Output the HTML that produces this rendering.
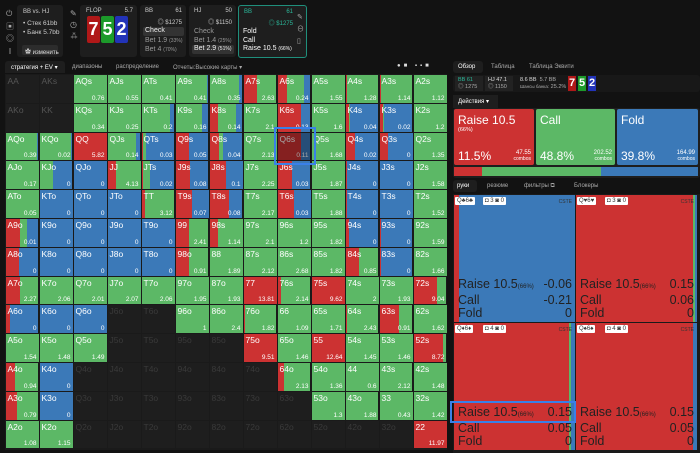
<!DOCTYPE html>
<html><head><meta charset="utf-8">
<style>
*{box-sizing:border-box;margin:0;padding:0}
body{width:700px;height:453px;overflow:hidden;background:#121212;font-family:"Liberation Sans","Noto Sans CJK SC",sans-serif;color:#ddd;position:relative}
.abs{position:absolute}
.box{position:absolute;background:#1e1e1e;border-radius:3px}
.t{position:absolute;white-space:nowrap}
.cell{position:absolute;overflow:hidden;display:flex}
.cell .lbl{position:absolute;left:2px;top:1px;font-size:8.5px;color:#fff}
.cell .ev{position:absolute;right:2px;bottom:1px;font-size:6.5px;color:#fff}
.q{position:absolute;overflow:hidden}
.q .lines{position:absolute;left:4px;right:3px;bottom:2px;font-size:12.5px;color:#222;line-height:13px}
.q .row{display:flex;justify-content:space-between}
.badge{position:absolute;top:2px;height:8px;background:#fff;border-radius:1px;font-size:6px;color:#333;padding:0 2px;line-height:8px}
</style></head><body>
<!-- header -->
<div class="t" style="left:6px;top:8px;font-size:8px;color:#aaa;line-height:12.5px">⏻<br>▣<br>◎<br>Ⅰ</div>
<div class="box" style="left:17px;top:5px;width:46px;height:52px">
<div class="t" style="left:6px;top:4px;font-size:6px;color:#ccc">BB vs. HJ</div>
<div class="t" style="left:6px;top:15px;font-size:6.5px;color:#ccc">• Стек 61bb</div>
<div class="t" style="left:6px;top:24px;font-size:6.5px;color:#ccc">• Банк 5.7bb</div>
<div class="t" style="left:5px;top:40px;width:36px;height:10px;background:#2c2c2c;border-radius:2px;font-size:6px;color:#ddd;padding:2px 3px">✿ изменить</div>
</div>
<div class="t" style="left:70px;top:8px;font-size:8px;color:#aaa;line-height:11px">✎<br>◷<br>⁂</div>
<div class="box" style="left:80px;top:5px;width:57px;height:52px">
<div class="t" style="left:6px;top:3px;font-size:6px;color:#ccc">FLOP</div>
<div class="t" style="right:4px;top:3px;font-size:6px;color:#ccc">5.7</div>
<div class="abs" style="left:7px;top:11px;width:13px;height:27px;background:#b01818;border-radius:2px;font-size:18px;font-weight:bold;color:#fff;text-align:center;line-height:27px">7</div>
<div class="abs" style="left:21px;top:11px;width:13px;height:27px;background:#1c9a2a;border-radius:2px;font-size:18px;font-weight:bold;color:#fff;text-align:center;line-height:27px">5</div>
<div class="abs" style="left:35px;top:11px;width:13px;height:27px;background:#2233b8;border-radius:2px;font-size:18px;font-weight:bold;color:#fff;text-align:center;line-height:27px">2</div>
</div>
<div class="box" style="left:140px;top:5px;width:46px;height:52px">
<div class="t" style="left:5px;top:3px;font-size:6px;color:#ccc">BB</div><div class="t" style="right:4px;top:3px;font-size:6px;color:#ccc">61</div>
<div class="t" style="right:4px;top:12px;font-size:6px;color:#ccc">◎ $1275</div>
<div class="t" style="left:3px;top:22px;width:41px;height:9px;background:#333;border-radius:2px;font-size:7px;color:#eee;padding-left:2px">Check</div>
<div class="t" style="left:5px;top:32px;font-size:7px;color:#999">Bet 1.9 <span style="font-size:5px">(33%)</span></div>
<div class="t" style="left:5px;top:41px;font-size:7px;color:#999">Bet 4 <span style="font-size:5px">(70%)</span></div>
</div>
<div class="box" style="left:189px;top:5px;width:47px;height:52px">
<div class="t" style="left:5px;top:3px;font-size:6px;color:#ccc">HJ</div><div class="t" style="right:4px;top:3px;font-size:6px;color:#ccc">50</div>
<div class="t" style="right:4px;top:12px;font-size:6px;color:#ccc">◎ $1150</div>
<div class="t" style="left:5px;top:23px;font-size:7px;color:#999">Check</div>
<div class="t" style="left:5px;top:32px;font-size:7px;color:#999">Bet 1.4 <span style="font-size:5px">(25%)</span></div>
<div class="t" style="left:3px;top:40px;width:42px;height:9px;background:#333;border-radius:2px;font-size:7px;color:#eee;padding-left:2px">Bet 2.9 <span style="font-size:5px">(51%)</span></div>
</div>
<div class="box" style="left:238px;top:5px;width:69px;height:53px;border:1.5px solid #1f8f7c">
<div class="t" style="left:5px;top:3px;font-size:6px;color:#2bb89a">BB</div><div class="t" style="right:13px;top:3px;font-size:6px;color:#2bb89a">61</div>
<div class="t" style="right:13px;top:12px;font-size:6px;color:#2bb89a">◎ $1275</div>
<div class="t" style="left:4px;top:22px;font-size:7px;color:#fff;line-height:8.5px">Fold<br>Call<br>Raise 10.5 <span style="font-size:5px">(66%)</span></div>
<div class="t" style="right:2px;top:6px;font-size:7px;color:#aaa;line-height:12px">✎<br>⊖<br>▯</div>
</div>
<!-- tabs -->
<div class="t" style="left:5px;top:61px;width:60px;height:12px;background:#1e1e1e;border-radius:3px 3px 0 0;font-size:6px;color:#fff;padding:3px 6px">стратегия + EV ▾</div>
<div class="t" style="left:72px;top:64px;font-size:6px;color:#aaa">диапазоны</div>
<div class="t" style="left:116px;top:64px;font-size:6px;color:#aaa">распределение</div>
<div class="t" style="left:173px;top:64px;font-size:6px;color:#aaa">Отчеты:Высокие карты ▾</div>
<div class="t" style="left:397px;top:63px;font-size:6px;color:#ddd;letter-spacing:3px">●■ ▪▪■</div>
<div class="abs" style="left:5px;top:74px;width:442px;height:376px;background:#1a1a1a" id="grid"></div>
<!-- right panel -->
<div class="t" style="left:453px;top:61px;width:30px;height:12px;background:#1e1e1e;border-radius:3px;font-size:6px;color:#fff;padding:3px 5px">Обзор</div>
<div class="t" style="left:491px;top:64px;font-size:6px;color:#aaa">Таблица</div>
<div class="t" style="left:529px;top:64px;font-size:6px;color:#aaa">Таблица Эквити</div>
<div class="box" style="left:453px;top:75px;width:247px;height:17px;background:#181818">
<div class="t" style="left:2px;top:1px;width:28px;height:15px;background:#222;font-size:5.5px;color:#2bb89a;padding:1px 3px;line-height:6.5px">BB 61<br><span style="color:#aaa">◎ 1275</span></div>
<div class="t" style="left:32px;top:1px;width:28px;height:15px;background:#222;font-size:5.5px;color:#ddd;padding:1px 3px;line-height:6.5px">HJ 47.1<br><span style="color:#aaa">◎ 1150</span></div>
<div class="t" style="left:67px;top:2px;font-size:5.5px;color:#ddd;line-height:6.5px">8.6 BB &nbsp;<span style="color:#aaa">5.7 BB</span><br><span style="color:#aaa;font-size:4.5px">Шансы банка:</span> <span style="color:#aaa">25.2%</span></div>
<div class="abs" style="left:115px;top:1px;width:8px;height:15px;background:#b01818;font-size:11px;font-weight:bold;color:#fff;text-align:center;line-height:15px">7</div>
<div class="abs" style="left:125px;top:1px;width:8px;height:15px;background:#1c9a2a;font-size:11px;font-weight:bold;color:#fff;text-align:center;line-height:15px">5</div>
<div class="abs" style="left:135px;top:1px;width:8px;height:15px;background:#2233b8;font-size:11px;font-weight:bold;color:#fff;text-align:center;line-height:15px">2</div>
</div>
<div class="t" style="left:453px;top:95px;width:45px;height:13px;background:#1e1e1e;font-size:6px;color:#fff;padding:3px 5px">Действия ▾</div>
<div class="box" style="left:453px;top:108px;width:247px;height:70px;background:#1e1e1e"></div>
<div class="abs" style="left:454px;top:109px;width:80px;height:56px;background:#cc3232;border-radius:2px">
<div class="t" style="left:4px;top:4px;font-size:12px;color:#fff">Raise 10.5</div><div class="t" style="left:4px;top:18px;font-size:5.5px;color:#fff">(66%)</div>
<div class="t" style="left:4px;top:40px;font-size:12px;color:#fff">11.5%</div><div class="t" style="right:3px;top:41px;font-size:6px;color:#fff;text-align:right;line-height:6px">47.55<br><span style="font-size:5px">combos</span></div></div>
<div class="abs" style="left:536px;top:109px;width:79px;height:56px;background:#5cb866;border-radius:2px">
<div class="t" style="left:4px;top:4px;font-size:12px;color:#fff">Call</div>
<div class="t" style="left:4px;top:40px;font-size:12px;color:#fff">48.8%</div><div class="t" style="right:3px;top:41px;font-size:6px;color:#fff;text-align:right;line-height:6px">202.52<br><span style="font-size:5px">combos</span></div></div>
<div class="abs" style="left:617px;top:109px;width:81px;height:56px;background:#3b79b8;border-radius:2px">
<div class="t" style="left:4px;top:4px;font-size:12px;color:#fff">Fold</div>
<div class="t" style="left:4px;top:40px;font-size:12px;color:#fff">39.8%</div><div class="t" style="right:3px;top:41px;font-size:6px;color:#fff;text-align:right;line-height:6px">164.99<br><span style="font-size:5px">combos</span></div></div>
<div class="abs" style="left:454px;top:167px;width:244px;height:9px;display:flex">
<div style="width:11.5%;background:#cc3232"></div><div style="width:48.8%;background:#5cb866"></div><div style="width:39.7%;background:#3b79b8"></div></div>
<div class="t" style="left:453px;top:180px;width:24px;height:12px;background:#1e1e1e;border-radius:3px;font-size:6px;color:#fff;padding:3px 4px">руки</div>
<div class="t" style="left:487px;top:183px;font-size:6px;color:#aaa">резюме</div>
<div class="t" style="left:524px;top:183px;font-size:6px;color:#aaa">фильтры ⧉</div>
<div class="t" style="left:574px;top:183px;font-size:6px;color:#aaa">Блокеры</div>
<div class="abs" style="left:453px;top:194px;width:247px;height:259px;background:#1a1a1a" id="hands"></div>
<script>
const ranks=["A","K","Q","J","T","9","8","7","6","5","4","3","2"];
const raiseRows=[
[null,null,0,0,0,0,0,.4,.3,0,.05,.05,0],
[null,null,0,0,0,0,.25,0,.7,0,.1,.1,0],
[0,0,1,0,.05,.4,.3,0,.7,0,.3,.25,0],
[0,0,0,.25,.05,.45,.5,0,.45,0,.05,0,0],
[0,0,0,0,.1,.5,.6,0,.5,0,.05,0,0],
[.45,0,0,0,0,.4,.25,0,0,0,.1,.05,0],
[.4,0,0,0,0,.4,0,0,0,0,.4,.05,0],
[.45,0,0,0,0,0,0,1,.1,1,0,0,.7],
[.15,0,0,null,null,0,0,.05,0,0,.05,.6,0],
[0,0,0,null,null,null,null,1,0,1,0,0,.9],
[.3,0,null,null,null,null,null,null,.2,0,0,.02,0],
[.35,0,null,null,null,null,null,null,null,0,.02,0,0],
[0,0,null,null,null,null,null,null,null,null,null,null,1]];
const callRows=[
[null,null,1,1,1,.95,.88,.6,.5,1,.95,.95,1],
[null,null,1,1,.85,.8,.55,1,0,1,.05,.05,1],
[.95,.95,0,.85,.1,0,.1,1,0,1,0,0,1],
[1,.4,0,.75,.2,0,0,1,0,1,0,0,1],
[1,0,0,0,.9,0,0,1,0,1,0,0,1],
[.2,0,0,0,0,.6,.75,1,1,1,0,0,1],
[0,0,0,0,0,.6,1,1,1,1,.6,0,1],
[.55,1,1,1,1,1,1,0,.9,0,1,1,.3],
[0,0,0,null,null,1,1,.95,1,1,.95,.4,1],
[1,1,1,null,null,null,null,0,1,0,1,1,.1],
[.7,0,null,null,null,null,null,null,.8,1,1,.98,1],
[.65,0,null,null,null,null,null,null,null,1,.98,1,1],
[1,1,null,null,null,null,null,null,null,null,null,null,0]];
const evRows=[
[null,null,"0.76","0.55","0.41","0.41","0.35","2.63","0.24","1.55","1.28","1.14","1.12"],
[null,null,"0.34","0.25","0.2","0.16","0.14","2.1","0.13","1.6","0.04","0.02","1.2"],
["0.39","0.02","5.82","0.14","0.03","0.05","0.04","2.13","0.11","1.68","0.02","0","1.35"],
["0.17","0","0","4.13","0.02","0.08","0.1","2.25","0.03","1.87","0","0","1.58"],
["0.05","0","0","0","3.12","0.07","0.08","2.17","0.03","1.88","0","0","1.52"],
["0.01","0","0","0","0","2.41","1.14","2.1","1.2","1.82","0","0","1.59"],
["0","0","0","0","0","0.91","1.89","2.12","2.68","1.82","0.85","0","1.66"],
["2.27","2.06","2.01","2.07","2.06","1.95","1.93","13.81","2.14","9.62","2","1.93","9.04"],
["0","0","0",null,null,"1","2.4","1.82","1.09","1.71","2.43","0.91","1.62"],
["1.54","1.48","1.49",null,null,null,null,"9.51","1.46","12.64","1.45","1.46","8.72"],
["0.94","0",null,null,null,null,null,null,"2.13","1.36","0.6","2.12","1.48"],
["0.79","0",null,null,null,null,null,null,null,"1.3","1.88","0.43","1.42"],
["1.08","1.15",null,null,null,null,null,null,null,null,null,null,"11.97"]];
const RED="#cc3232",GREEN="#5cb866",BLUE="#3b79b8";
const grid=document.getElementById('grid');
const CW=34,CH=28.8;
function xPos(j){return j*CW;}
function yPos(i){return 1+i*CH;}
for(let i=0;i<13;i++)for(let j=0;j<13;j++){
  const name=i==j?ranks[i]+ranks[j]:(j>i?ranks[i]+ranks[j]+"s":ranks[j]+ranks[i]+"o");
  const c=document.createElement('div');
  c.className='cell';
  
  
  c.style.left=(xPos(j)+0.5)+'px';c.style.top=yPos(i)+'px';c.style.width=(CW-1)+'px';c.style.height=(CH-1)+'px';
  const r=raiseRows[i][j],ca=callRows[i][j],ev=evRows[i][j];
  if(r===null){c.style.background='#1e1e1e';
    c.innerHTML='<span class="lbl" style="color:'+((i<2&&j<2)?'#555':'#3a3a3a')+'">'+name+'</span>';}
  else{
    const f=Math.max(0,1-r-ca);
    c.innerHTML='<div style="width:'+(r*100)+'%;background:'+RED+'"></div><div style="width:'+(ca*100)+'%;background:'+GREEN+'"></div><div style="width:'+(f*100)+'%;background:'+BLUE+'"></div>'+
    '<span class="lbl">'+name+'</span><span class="ev">'+ev+'</span>';
    if(name==="Q6s"){c.innerHTML+='<div style="position:absolute;inset:0;background:rgba(0,0,0,0.35)"></div>';}
  }
  grid.appendChild(c);
}
const hl=document.createElement('div');


hl.style.cssText='position:absolute;border:2.5px solid #3a80e8;left:'+(xPos(8)-3)+'px;top:'+(yPos(2)-6)+'px;width:'+(CW+8)+'px;height:'+(CH+10)+'px';
grid.appendChild(hl);

const comboNames=["Q♣6♣","Q♥6♥","Q♦6♦","Q♠6♠"];
const comboRaise=[.04,.97,.95,.97];
const comboCall=[0,.015,.02,0];
const comboEvR=["-0.06","0.15","0.15","0.15"];
const comboEvC=["-0.21","0.06","0.05","0.05"];
const hands=document.getElementById('hands');
for(let k=0;k<4;k++){
  const q=document.createElement('div');
  q.className='q';
  
  
  const x=1+(k%2)*122,y=1+Math.floor(k/2)*128;
  q.style.left=x+'px';q.style.top=y+'px';q.style.width='121px';q.style.height='127px';
  q.style.display='flex';
  const r=comboRaise[k],ca=comboCall[k],f=Math.max(0,1-r-ca);
  q.innerHTML='<div style="width:'+(r*100)+'%;background:'+RED+'"></div><div style="width:'+(ca*100)+'%;background:'+GREEN+'"></div><div style="width:'+(f*100)+'%;background:'+BLUE+'"></div>'+
  '<div class="badge" style="left:1px">'+comboNames[k]+'</div><div class="badge" style="left:29px">◘ '+(k<2?3:4)+' ◙ 0</div>'+
  '<div class="t" style="right:3px;top:4px;font-size:5px;color:#333">CSTE</div>'+
  '<div class="lines"><div class="row"><span>Raise 10.5<span style="font-size:6px">(66%)</span></span><span>'+comboEvR[k]+'</span></div><div class="row"><span>Call</span><span>'+comboEvC[k]+'</span></div><div class="row"><span>Fold</span><span>0</span></div></div>';
  hands.appendChild(q);
}
const sel=document.createElement('div');


sel.style.cssText='position:absolute;left:-3px;top:207px;width:126px;height:22px;border:2px solid #3a80e8';
hands.appendChild(sel);
</script>
</body></html>
